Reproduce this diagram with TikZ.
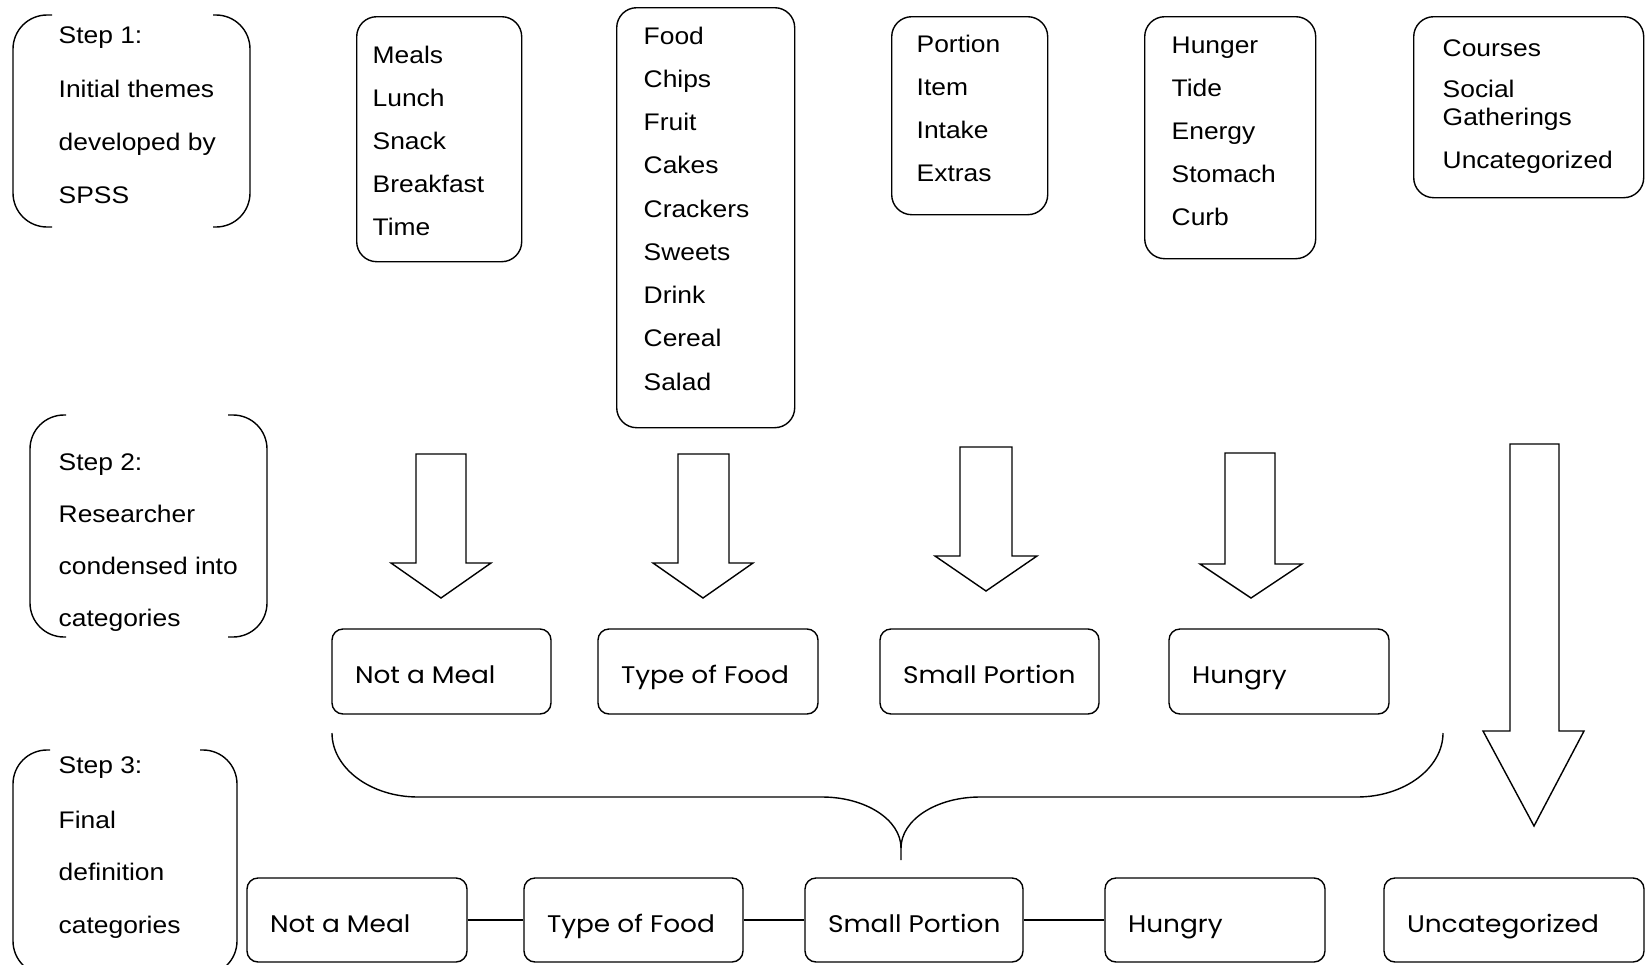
\documentclass[tikz,border=0pt]{standalone}
\usepackage{fontspec}
\setmainfont{Liberation Sans}[FakeStretch=1.1]
\newfontfamily\gothicfont{Poppins}[FakeStretch=1.1]
\newcommand\cattext[2]{\makebox[#1][l]{#2}}
\begin{document}
\begin{tikzpicture}[x=1pt,y=-1pt,
  line width=1.4pt,
  topbox/.style={draw, rounded corners=20pt, anchor=north west, inner sep=0pt},
  item/.style={anchor=base west, inner sep=0pt, font=\fontsize{24}{28}\selectfont},
  steptext/.style={anchor=base west, inner sep=0pt, font=\fontsize{24}{28}\selectfont},
  catbox/.style={draw, rounded corners=11pt, minimum height=#1, inner xsep=23pt, inner ysep=0pt, text depth=1pt, font=\gothicfont\fontsize{24}{29}\selectfont},
  bracket/.style={rounded corners=34pt},
  blockarrow/.style={draw, line join=miter},
  link/.style={draw}
]
\useasboundingbox (0,0) rectangle (1646,964);
\fill[white] (0,0) rectangle (1646,964);
\clip (0,0) rectangle (1646,964);

% step brackets
\draw[bracket] (52,15) -- (13,15) -- (13,227) -- (52,227);
\draw[bracket] (213,15) -- (250,15) -- (250,227) -- (213,227);
\draw[bracket] (66,415) -- (30,415) -- (30,637) -- (66,637);
\draw[bracket] (228,415) -- (267,415) -- (267,637) -- (228,637);
\draw[bracket] (50,750) -- (13,750) -- (13,975) -- (50,975);
\draw[bracket] (200,750) -- (237,750) -- (237,975) -- (200,975);

% step texts
\node[steptext] (s1a) at (58,43) {Step 1:};
\node[steptext] (s1b) at (58,97) {Initial themes};
\node[steptext] (s1c) at (58,150) {developed by};
\node[steptext] (s1d) at (58,203) {SPSS};
\node[steptext] (s2a) at (58,470) {Step 2:};
\node[steptext] (s2b) at (58,522) {Researcher};
\node[steptext] (s2c) at (58,574) {condensed into};
\node[steptext] (s2d) at (58,626) {categories};
\node[steptext] (s3a) at (58,773) {Step 3:};
\node[steptext] (s3b) at (58,828) {Final};
\node[steptext] (s3c) at (58,880) {definition};
\node[steptext] (s3d) at (58,933) {categories};

% top boxes
\node[topbox, minimum width=165, minimum height=245] (meals) at (356,16) {};
\node[topbox, minimum width=178, minimum height=420] (food) at (616,7) {};
\node[topbox, minimum width=156, minimum height=198] (portion) at (891,16) {};
\node[topbox, minimum width=171, minimum height=242] (hunger) at (1144,16) {};
\node[topbox, minimum width=230, minimum height=181] (courses) at (1413,16) {};

\foreach \t [count=\i from 0] in {Meals,Lunch,Snack,Breakfast,Time}
  \node[item] (meals-\i) at (372,63+43*\i) {\t};
\foreach \t [count=\i from 0] in {Food,Chips,Fruit,Cakes,Crackers,Sweets,Drink,Cereal,Salad}
  \node[item] (food-\i) at (643,44+43.25*\i) {\t};
\foreach \t [count=\i from 0] in {Portion,Item,Intake,Extras}
  \node[item] (portion-\i) at (916,52+43.3*\i) {\t};
\foreach \t [count=\i from 0] in {Hunger,Tide,Energy,Stomach,Curb}
  \node[item] (hunger-\i) at (1171,53+43*\i) {\t};
\node[item] (courses-0) at (1442,56) {Courses};
\node[item] (courses-1) at (1442,97) {Social};
\node[item] (courses-2) at (1442,125) {Gatherings};
\node[item] (courses-3) at (1442,168) {Uncategorized};

% block arrows
\draw[blockarrow] (416,454) -- (466,454) -- (466,563) -- (491,563) -- (441,598) -- (391,563) -- (416,563) -- cycle;
\draw[blockarrow] (678,454) -- (729,454) -- (729,563) -- (753,563) -- (703,598) -- (653,563) -- (678,563) -- cycle;
\draw[blockarrow] (960,447) -- (1012,447) -- (1012,556) -- (1037,556) -- (986,591) -- (935,556) -- (960,556) -- cycle;
\draw[blockarrow] (1225,453) -- (1275,453) -- (1275,564) -- (1302,564) -- (1251,598) -- (1200,564) -- (1225,564) -- cycle;
\draw[blockarrow] (1510,444) -- (1559,444) -- (1559,731) -- (1584,731) -- (1534,826) -- (1483,731) -- (1510,731) -- cycle;

% step 2 categories
\node[catbox=85, text height=24pt] (m1) at (441.5,671.5) {\cattext{173pt}{Not a Meal}};
\node[catbox=85, text height=24pt] (m2) at (708,671.5) {\cattext{174pt}{Type of Food}};
\node[catbox=85, text height=24pt] (m3) at (989.5,671.5) {\cattext{173pt}{Small Portion}};
\node[catbox=85, text height=24pt] (m4) at (1279,671.5) {\cattext{174pt}{Hungry}};

% brace
\draw (332,733) .. controls (332,768) and (370.5,797) .. (418,797) -- (822,797)
  .. controls (865.6,797) and (901,819.8) .. (901,848) -- (901,860);
\draw (901,848) .. controls (901,819.8) and (936.4,797) .. (980,797) -- (1357,797)
  .. controls (1404.5,797) and (1443,768) .. (1443,733);

% step 3 final categories
\node[catbox=84, text height=25pt] (f1) at (357,920) {\cattext{174pt}{Not a Meal}};
\node[catbox=84, text height=25pt] (f2) at (633.5,920) {\cattext{173pt}{Type of Food}};
\node[catbox=84, text height=25pt] (f3) at (914,920) {\cattext{172pt}{Small Portion}};
\node[catbox=84, text height=25pt] (f4) at (1215,920) {\cattext{174pt}{Hungry}};
\node[catbox=84, text height=25pt] (f5) at (1514,920) {\cattext{214pt}{Uncategorized}};

\draw[link] (f1.east) -- (f2.west);
\draw[link] (f2.east) -- (f3.west);
\draw[link] (f3.east) -- (f4.west);
\end{tikzpicture}
\end{document}
